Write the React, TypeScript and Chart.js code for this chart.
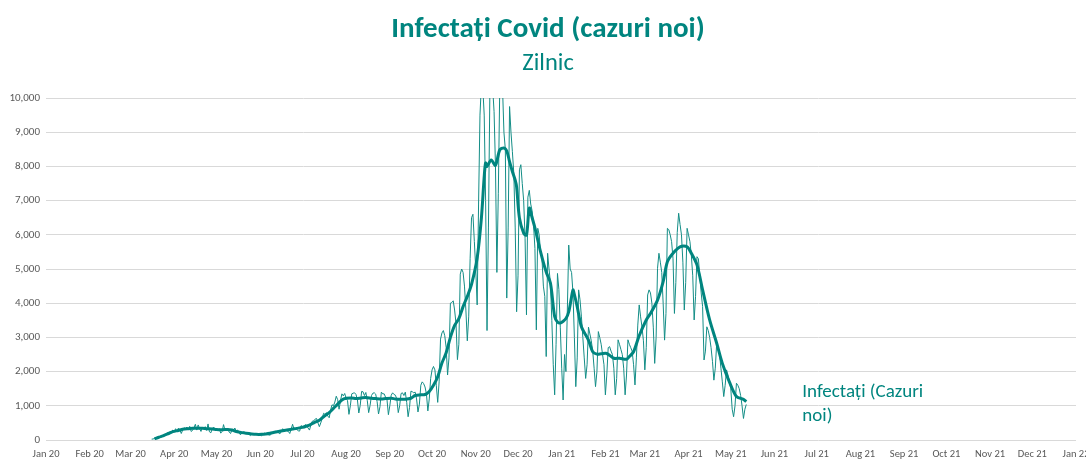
import React, { useEffect, useRef } from "react";
import { Chart, registerables } from "chart.js";

Chart.register(...registerables);

// ---- data ----
// first daily value is for 16 Mar 2020 (days counted from 1 Jan 2020)
const firstDay = 75;

const mar20 = [25, 30, 45, 60, 80, 65, 70, 100, 140, 115, 160, 210, 190, 250, 210, 290];
const apr20 = [250, 330, 250, 350, 300, 190, 290, 360, 320, 380, 300, 400, 250, 280, 360, 460, 290, 440, 330, 250, 380, 320, 390, 280, 470, 240, 210, 330, 380, 300];
const may20 = [310, 280, 330, 200, 250, 450, 290, 320, 340, 230, 190, 300, 260, 350, 270, 290, 230, 150, 210, 240, 230, 210, 190, 170, 130, 170, 180, 160, 190, 180, 130];
const jun20 = [140, 120, 170, 200, 170, 190, 150, 140, 180, 210, 200, 260, 230, 210, 180, 250, 330, 290, 300, 270, 250, 190, 320, 460, 320, 330, 310, 270, 260, 420];
const jul20 = [400, 350, 450, 410, 350, 290, 440, 550, 560, 610, 630, 500, 390, 500, 620, 780, 750, 800, 700, 650, 880, 1030, 1000, 1110, 1280, 1180, 900, 1150, 1350, 1290, 1360];
const aug20 = [1220, 1150, 750, 1000, 1350, 1370, 1380, 1330, 1180, 790, 1010, 1420, 1410, 1300, 1390, 1160, 800, 1010, 1300, 1370, 1380, 1340, 1120, 760, 970, 1400, 1350, 1350, 1250, 1180, 740];
const sep20 = [1000, 1310, 1380, 1330, 1310, 1190, 800, 1000, 1360, 1380, 1300, 1400, 1100, 680, 950, 1430, 1410, 1380, 1400, 1200, 820, 1050, 1600, 1700, 1650, 1550, 1350, 850, 1200, 1800];
const oct20 = [2050, 2150, 2050, 1600, 1100, 1700, 2950, 3130, 3200, 3050, 2700, 1900, 2400, 4000, 4020, 4070, 3800, 3400, 2350, 2800, 4850, 5000, 4900, 4500, 3800, 2900, 3600, 5300, 6500, 6600, 5800];
const nov20 = [5000, 3950, 6900, 9500, 10400, 10300, 9500, 7000, 3200, 6200, 10100, 10400, 10300, 9600, 8000, 4900, 7200, 10200, 10600, 10300, 9000, 8500, 4150, 6200, 9750, 9000, 8430, 7800, 6200, 3750];
const dec20 = [4800, 7900, 8050, 7500, 7000, 5900, 3660, 7100, 7300, 6900, 6700, 6300, 5600, 3220, 6190, 6000, 5500, 5300, 4500, 4200, 2440, 5460, 5000, 4600, 3500, 2200, 1320, 2800, 4870, 4400, 3300];
const jan21 = [2100, 1170, 2500, 2000, 3800, 5700, 5000, 4900, 4300, 3000, 1560, 2400, 4390, 4100, 3600, 3000, 2400, 1800, 2200, 3300, 3100, 2900, 2600, 2100, 1560, 2000, 3170, 3000, 2800, 2500, 2200];
const feb21 = [1320, 1900, 2700, 2730, 2600, 2500, 2100, 1320, 1800, 2930, 2800, 2650, 2500, 2100, 1320, 1900, 2930, 2800, 2700, 2600, 2200, 1610, 2400, 3360, 3950, 3600, 3300, 2900];
const mar21 = [2050, 2700, 4240, 4390, 4300, 4000, 3300, 2240, 3000, 5020, 5460, 5200, 4900, 4000, 2920, 3700, 6190, 6150, 6000, 5800, 5300, 3700, 4600, 6070, 6630, 6300, 6000, 5200, 3800, 4600, 6190];
const apr21 = [6000, 5800, 5400, 4800, 3510, 4200, 5360, 5300, 4800, 4300, 3900, 2340, 2600, 3310, 3200, 3000, 2700, 2300, 1750, 2100, 2830, 2700, 2500, 2100, 1700, 1270, 1600, 2050, 1900, 1700];
const may21 = [1500, 900, 680, 1000, 1660, 1600, 1500, 1300, 1000, 630, 900, 1040];

const dailyValues = [
  ...mar20, ...apr20, ...may20, ...jun20, ...jul20, ...aug20, ...sep20, ...oct20,
  ...nov20, ...dec20, ...jan21, ...feb21, ...mar21, ...apr21, ...may21,
];

// smoothed (thick) line
const avgDays = [
  77, 80, 83, 87, 90, 94, 97, 101, 104, 108,
  111, 114, 118, 121, 125, 129, 132, 135, 139, 142,
  146, 149, 153, 156, 159, 162, 165, 168, 172, 175,
  178, 182, 185, 188, 191, 194, 197, 201, 204, 207,
  210, 213, 217, 220, 224, 227, 231, 234, 238, 241,
  245, 248, 252, 255, 259, 262, 266, 269, 272, 275,
  278, 281, 284, 287, 290, 293, 296, 299, 302, 306,
  309, 311, 312, 313, 316, 319, 322, 325, 327, 329,
  331, 333, 334, 336, 339, 341, 343, 345, 347, 351,
  355, 358, 361, 363, 365, 367, 369, 371, 373, 374,
  375, 377, 380, 385, 388, 391, 394, 398, 403, 407,
  412, 414, 417, 421, 426, 429, 434, 438, 441, 445,
  450, 455, 458, 462, 466, 471, 476, 480, 485, 490,
  495, 497,
];
const avgValues = [
  30, 80, 120, 190, 243, 280, 312, 330, 340, 345,
  340, 330, 320, 305, 300, 310, 290, 250, 215, 195,
  175, 165, 165, 175, 195, 225, 250, 273, 300, 320,
  340, 370, 410, 460, 520, 580, 680, 800, 925, 1050,
  1170, 1220, 1230, 1210, 1230, 1240, 1220, 1210, 1200, 1210,
  1220, 1200, 1190, 1190, 1220, 1300, 1320, 1330, 1420, 1600,
  1850, 2250, 2550, 3000, 3350, 3550, 3900, 4200, 4550, 5320,
  6490, 7700, 8100, 8000, 8190, 8030, 8480, 8540, 8450, 8140,
  7850, 7600, 7400, 6490, 6050, 5990, 6780, 6500, 6200, 5500,
  4910, 4590, 3610, 3450, 3420, 3470, 3550, 3750, 4190, 4390,
  4250, 3900, 3310, 2920, 2580, 2510, 2520, 2530, 2390, 2390,
  2360, 2440, 2580, 3050, 3510, 3700, 4090, 4630, 5210, 5460,
  5650, 5650, 5460, 5120, 4390, 3510, 2830, 2240, 1700, 1270,
  1190, 1120,
];

const monthTickLabels = [
  "Jan 20", "Feb 20", "Mar 20", "Apr 20", "May 20", "Jun 20", "Jul 20", "Aug 20",
  "Sep 20", "Oct 20", "Nov 20", "Dec 20", "Jan 21", "Feb 21", "Mar 21", "Apr 21",
  "May 21", "Jun 21", "Jul 21", "Aug 21", "Sep 21", "Oct 21", "Nov 21", "Dec 21", "Jan 22",
];

const titleText = "Infectați Covid (cazuri noi)";
const subtitleText = "Zilnic";
const endLabelLines = ["Infectați (Cazuri", "noi)"];

// ---- style ----
const TEAL = "#00857F";
const THIN = "#138d86";
const GRID = "#d9d9d9";
const AXIS_TEXT = "#595959";
const FONT = "Carlito, 'Liberation Sans Narrow', 'DejaVu Sans Condensed', Lato, sans-serif";

const dayMs = 86400000;
const baseUTC = Date.UTC(2020, 0, 1);
function monthStartDay(i: number): number {
  return Math.round((Date.UTC(2020 + Math.floor(i / 12), i % 12, 1) - baseUTC) / dayMs);
}

const endLabelPlugin = {
  id: "endLabel",
  afterDatasetsDraw(chart: any) {
    const { ctx, scales } = chart;
    const last = dailyValues.length - 1;
    const px = scales.x.getPixelForValue(firstDay + last);
    const py = scales.y.getPixelForValue(dailyValues[last]);
    ctx.save();
    ctx.font = `19px ${FONT}`;
    ctx.fillStyle = TEAL;
    ctx.textAlign = "left";
    ctx.textBaseline = "middle";
    endLabelLines.forEach((line, i) => {
      ctx.fillText(line, px + 56, py - 12 + i * 24);
    });
    ctx.restore();
  },
};

export default function App() {
  const canvasRef = useRef<HTMLCanvasElement | null>(null);

  useEffect(() => {
    if (!canvasRef.current) return;
    const dailyPoints = dailyValues.map((v, i) => ({ x: firstDay + i, y: v }));
    const avgPoints = avgDays.map((d, i) => ({ x: d, y: avgValues[i] }));

    const chart = new Chart(canvasRef.current, {
      type: "line",
      data: {
        datasets: [
          {
            label: "Medie",
            data: avgPoints,
            borderColor: TEAL,
            borderWidth: 3,
            pointRadius: 0,
            tension: 0.3,
            fill: false,
          },
          {
            label: "Infectați (Cazuri noi)",
            data: dailyPoints,
            borderColor: THIN,
            borderWidth: 1,
            pointRadius: 0,
            tension: 0,
            fill: false,
          },
        ],
      },
      options: {
        animation: false,
        responsive: false,
        layout: { padding: { left: 0, right: 0, top: 0, bottom: 0 } },
        plugins: {
          legend: { display: false },
          tooltip: { enabled: false },
          title: {
            display: true,
            text: titleText,
            color: TEAL,
            font: { family: FONT, size: 29, weight: "bold", lineHeight: 1.2 },
            padding: { top: 12.6, bottom: 0 },
          },
          subtitle: {
            display: true,
            text: subtitleText,
            color: TEAL,
            font: { family: FONT, size: 24.5, weight: "normal", lineHeight: 1.2 },
            padding: { top: 1.9, bottom: 19.3 },
          },
        },
        scales: {
          x: {
            type: "linear",
            min: 0,
            max: monthStartDay(monthTickLabels.length - 1),
            grid: { display: false, drawTicks: false },
            border: { display: false },
            afterBuildTicks: (scale: any) => {
              scale.ticks = monthTickLabels.map((_, i) => ({ value: monthStartDay(i) }));
            },
            afterFit: (scale: any) => {
              scale.height = 21;
              scale.paddingRight = 20;
              scale.paddingLeft = 0;
            },
            ticks: {
              autoSkip: false,
              maxRotation: 0,
              minRotation: 0,
              padding: 8,
              color: AXIS_TEXT,
              font: { family: FONT, size: 10.5 },
              callback: (_v: any, index: number) => monthTickLabels[index],
            },
          },
          y: {
            min: 0,
            max: 10000,
            grid: { color: GRID, lineWidth: 1, drawTicks: false },
            border: { display: false },
            afterFit: (scale: any) => {
              scale.width = 46;
            },
            ticks: {
              stepSize: 1000,
              padding: 6,
              color: AXIS_TEXT,
              font: { family: FONT, size: 11 },
              callback: (v: any) => Number(v).toLocaleString("en-US"),
            },
          },
        },
      },
      plugins: [endLabelPlugin],
    });
    return () => chart.destroy();
  }, []);

  return (
    <div
      style={{
        position: "absolute",
        left: 0,
        top: 0,
        width: 1086,
        height: 461,
        overflow: "hidden",
        background: "#ffffff",
      }}
    >
      <canvas
        ref={canvasRef}
        width={1096}
        height={461}
        style={{ display: "block", width: 1096, height: 461 }}
      />
    </div>
  );
}
